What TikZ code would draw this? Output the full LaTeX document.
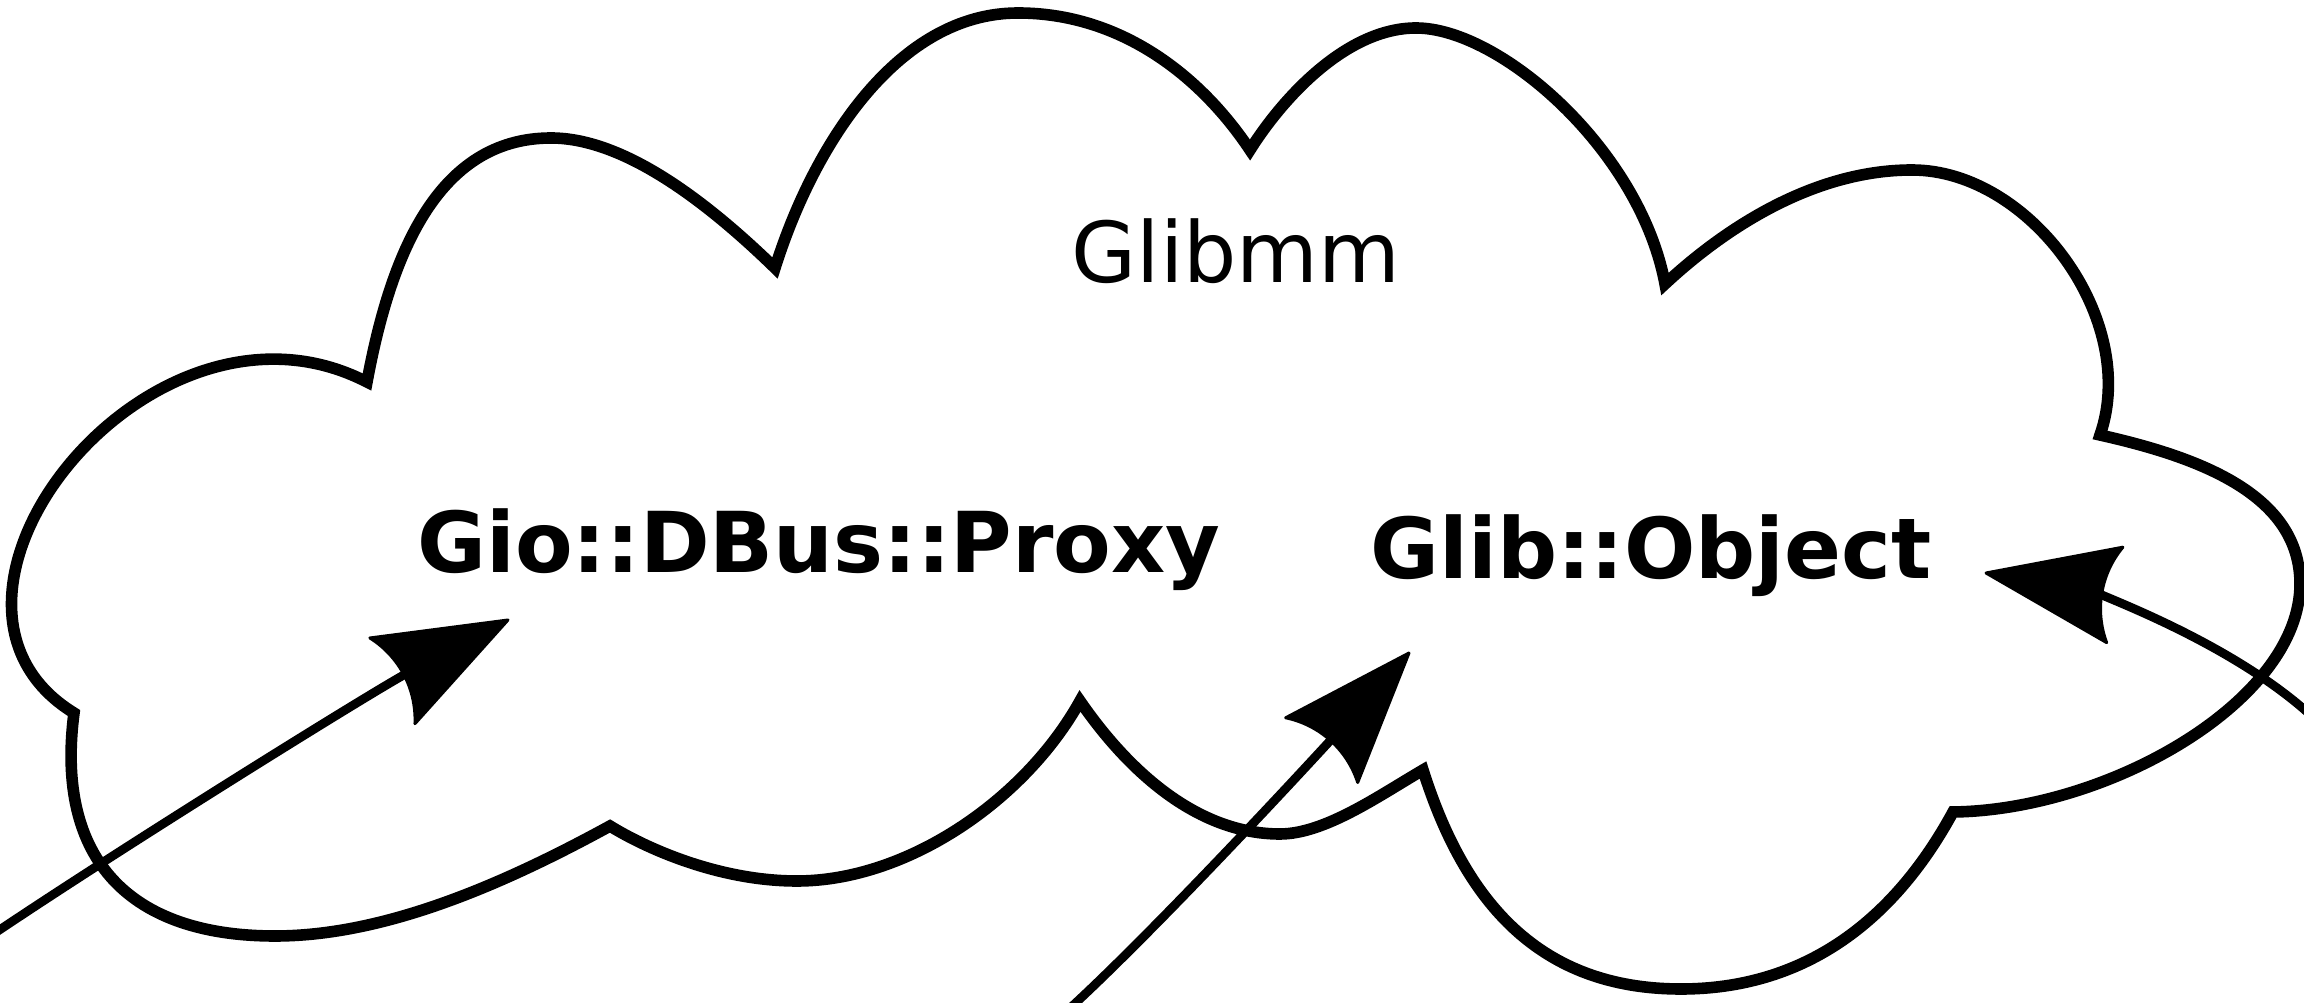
\documentclass[tikz,border=0pt]{standalone}
\usepackage{fontspec}
\setmainfont{DejaVu Sans}
\usetikzlibrary{arrows.meta}
\pgfdeclarearrow{
  name = DiaTip,
  setup code = {
    \pgfarrowssettipend{0pt}
    \pgfarrowssetlineend{-28pt}
    \pgfarrowssetbackend{-32.65pt}
    \pgfarrowsupperhullpoint{0pt}{0pt}
    \pgfarrowsupperhullpoint{-32.65pt}{12.1pt}
  },
  drawing code = {
    \pgfsetdash{}{0pt}
    \pgfsetroundjoin
    \pgfsetlinewidth{0.75pt}
    \pgfpathmoveto{\pgfqpoint{0pt}{0pt}}
    \pgfpathlineto{\pgfqpoint{-32.65pt}{12.1pt}}
    \pgfpathcurveto{\pgfqpoint{-28.3pt}{4.6pt}}{\pgfqpoint{-28.3pt}{-4.6pt}}{\pgfqpoint{-32.65pt}{-12.1pt}}
    \pgfpathclose
    \pgfusepathqfillstroke
  }
}
\tikzset{
  cloudline/.style={draw=black, line width=2.9pt, miter limit=20},
  conn/.style={draw=black, line width=2.2pt, -{DiaTip}},
  lbl/.style={inner sep=0pt, font=\fontsize{21}{25}\selectfont},
  blbl/.style={inner sep=0pt, font=\fontsize{21}{25}\selectfont\bfseries}
}
\begin{document}
\begin{tikzpicture}[x=0.25pt, y=-0.25pt]
\path[use as bounding box, clip] (0,0) rectangle (2304,1003);
\fill[white] (0,0) rectangle (2304,1003);
% cloud outline
\draw[cloudline] (74,713)
 .. controls (-110,600) and (150,270) .. (367,382)
 .. controls (390,258) and (436,138) .. (551,138)
 .. controls (620,138) and (700,195) .. (775,268)
 .. controls (814,144) and (898,13) .. (1018,13)
 .. controls (1120,13) and (1200,75) .. (1250,150)
 .. controls (1282,99) and (1346,28) .. (1416,28)
 .. controls (1500,28) and (1640,150) .. (1665,284)
 .. controls (1723,230) and (1812,170) .. (1912,170)
 .. controls (2030,170) and (2140,320) .. (2100,435)
 .. controls (2198,457) and (2300,494) .. (2300,584)
 .. controls (2300,700) and (2110,810) .. (1953,812)
 .. controls (1891,926) and (1800,989) .. (1681,989)
 .. controls (1540,989) and (1465,903) .. (1423,770)
 .. controls (1380,795) and (1325,834) .. (1280,834)
 .. controls (1200,834) and (1131,775) .. (1080,701)
 .. controls (1025,800) and (907,881) .. (797,881)
 .. controls (717,881) and (644,847) .. (610,826)
 .. controls (504,884) and (385,936) .. (275,936)
 .. controls (130,936) and (55,860) .. cycle;
% labels
\node[lbl, anchor=base] (glibmm) at (1236,283) {Glibmm};
\node[blbl, anchor=base] (proxy) at (819,573) {Gio::DBus::Proxy};
\node[blbl, anchor=base] (object) at (1651,579) {Glib::Object};
% connectors
\coordinate (s1) at (-8,935);
\coordinate (t1) at (508,620);
\coordinate (s2) at (1068,1010);
\coordinate (t2) at (1409,653);
\coordinate (s3) at (2320,724);
\coordinate (t3) at (1986,573);
\draw[conn] (s1) .. controls (118,850) and (375,690) .. (t1);
\draw[conn] (s2) .. controls (1163,923) and (1329,742) .. (t2);
\draw[conn] (s3) .. controls (2235,640) and (2080,589) .. (t3);
\end{tikzpicture}
\end{document}
